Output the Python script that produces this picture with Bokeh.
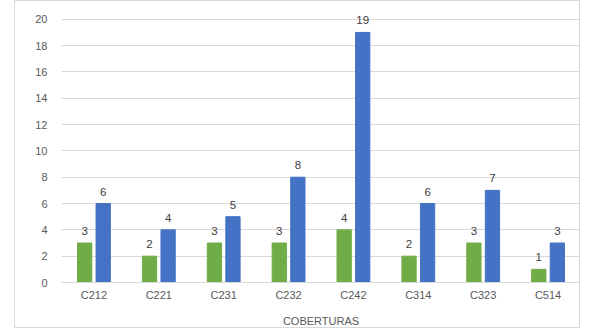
from bokeh.plotting import figure
from bokeh.models import ColumnDataSource, FactorRange, Range1d, FixedTicker
from bokeh.transform import dodge
from bokeh.core.properties import value
from bokeh.embed import file_html
from bokeh.resources import INLINE

categories = ["C212", "C221", "C231", "C232", "C242", "C314", "C323", "C514"]
serie_verde = [3, 2, 3, 3, 4, 2, 3, 1]
serie_azul = [6, 4, 5, 8, 19, 6, 7, 3]
y_ticks = [0, 2, 4, 6, 8, 10, 12, 14, 16, 18, 20]

src = ColumnDataSource(dict(
    cat=categories,
    verde=serie_verde,
    azul=serie_azul,
    verde_txt=[str(v) for v in serie_verde],
    azul_txt=[str(v) for v in serie_azul],
))

p = figure(
    x_range=FactorRange(*categories, range_padding=0.0),
    y_range=Range1d(0, 21.35),
    width=566, height=328,
    output_backend="svg", toolbar_location=None,
    min_border_left=46, min_border_right=1, min_border_top=0, min_border_bottom=40,
)
p.styles = {"margin-left": "14px", "border": "1px solid #d9d9d9"}
p.outline_line_color = None
p.background_fill_color = "white"
p.border_fill_color = "white"

p.vbar(x=dodge("cat", -0.143, range=p.x_range), top="verde", width=0.22,
       source=src, color="#70AD47")
p.vbar(x=dodge("cat", 0.143, range=p.x_range), top="azul", width=0.22,
       source=src, color="#4472C4")

p.text(x=dodge("cat", -0.143, range=p.x_range), y="verde", text="verde_txt", source=src,
       text_align="center", text_baseline="bottom", y_offset=-8,
       text_font=value("Liberation Sans"), text_font_size="11.5px", text_color="#404040")
p.text(x=dodge("cat", 0.143, range=p.x_range), y="azul", text="azul_txt", source=src,
       text_align="center", text_baseline="bottom", y_offset=-8,
       text_font=value("Liberation Sans"), text_font_size="11.5px", text_color="#404040")

p.yaxis.ticker = FixedTicker(ticks=y_ticks)
p.ygrid.grid_line_color = "#d9d9d9"
p.xgrid.grid_line_color = None
for ax in (p.xaxis[0], p.yaxis[0]):
    ax.axis_line_color = None
    ax.major_tick_line_color = None
    ax.minor_tick_line_color = None
    ax.major_label_text_font = "Liberation Sans"
    ax.major_label_text_font_size = "11px"
    ax.major_label_text_color = "#595959"
p.xaxis.axis_line_color = "#d9d9d9"
p.yaxis.major_label_standoff = 8
p.xaxis.major_label_standoff = 0
p.xaxis.axis_label = "COBERTURAS"
p.xaxis.axis_label_text_font = "Liberation Sans"
p.xaxis.axis_label_text_font_size = "11px"
p.xaxis.axis_label_text_font_style = "normal"
p.xaxis.axis_label_text_color = "#595959"
p.xaxis.axis_label_standoff = 11

open("out.html", "w").write(file_html(p, INLINE))
